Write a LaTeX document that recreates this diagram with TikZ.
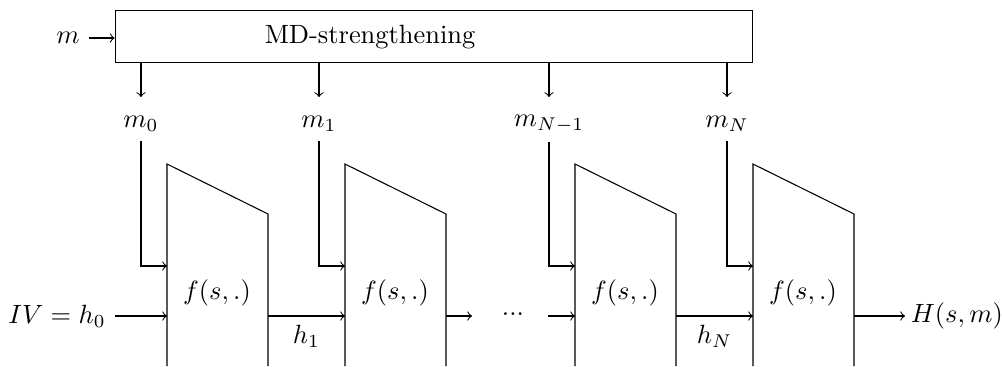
\documentclass[tikz,border=0pt]{standalone}
\begin{document}
\begin{tikzpicture}[x=0.0133cm, y=-0.0133cm,
    mdbox/.style={rectangle, draw, minimum width=8.485cm, minimum height=0.692cm, inner sep=0pt},
    arrow/.style={->}
]
\useasboundingbox (0,0) rectangle (1002,366);

% Padding
\node[mdbox] (md) at (434,36.5) {};
\node (mdtext) at (370,37) {MD-strengthening};
\node (m) at (68,38) {$m$};
\draw[arrow] (m) -- (m -| md.west);

% Compression stages
\foreach \i/\x/\lab in {0/167/m_0, 1/345/m_1, 2/575/m_{N-1}, 3/753/m_N} {
  \coordinate (tip\i) at (\x-26,97);
  \node (m\i) at (\x-26,124) {$\lab$};
  \draw[arrow] (md.south -| tip\i) -- (tip\i);
  \draw (\x,366) -- (\x,164) -- (\x+101,214) -- (\x+101,366);
  \node (f\i) at (\x+50,293) {$f(s,.)$};
  \coordinate (in\i) at (\x,266);
  \coordinate (hin\i) at (\x,316);
  \coordinate (hout\i) at (\x+101,316);
  \draw[arrow] (m\i) |- (in\i);
}

% Chaining values
\node[anchor=east] (iv) at (115,316) {$IV=h_0$};
\draw[arrow] (iv) -- (hin0);
\draw[arrow] (hout0) -- node[below] (h1) {$h_1$} (hin1);
\coordinate (gap) at (472,316);
\draw[arrow] (hout1) -- (gap);
\node (dots) at (513,314) {...};
\coordinate (resume) at (548,316);
\draw[arrow] (resume) -- (hin2);
\draw[arrow] (hout2) -- node[below] (hN) {$h_N$} (hin3);
\node[anchor=west, inner sep=2pt] (out) at (905,316) {$H(s,m)$};
\draw[arrow] (hout3) -- (out);

\end{tikzpicture}
\end{document}
